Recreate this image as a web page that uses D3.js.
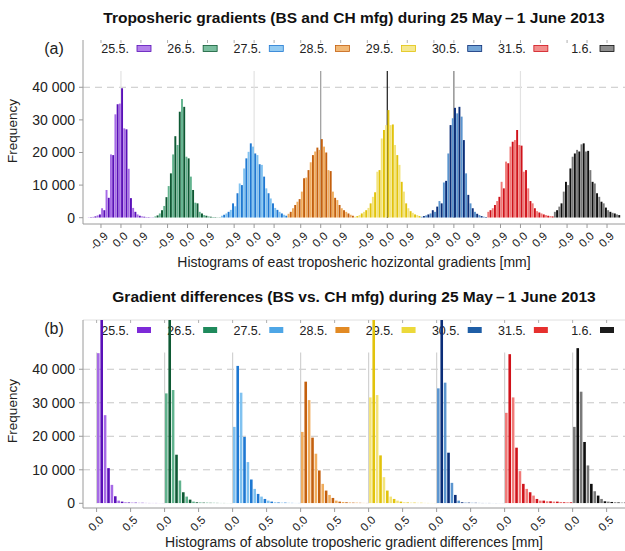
<!DOCTYPE html>
<html>
<head>
<meta charset="utf-8">
<script src="https://cdn.jsdelivr.net/npm/d3@7"></script>
<style>
  html, body { margin: 0; padding: 0; background: #fff; }
  svg { display: block; font-family: "Liberation Sans", Arial, Helvetica, sans-serif; }
</style>
</head>
<body>
<svg id="chart" width="625" height="551"></svg>
<script>
// ---- data -------------------------------------------------------------
const days = ["25.5.", "26.5.", "27.5.", "28.5.", "29.5.", "30.5.", "31.5.", "1.6."];
const countTicks = [0, 10000, 20000, 30000, 40000];
const eastTicks = [-0.9, 0, 0.9];
const diffTicks = [0, 0.5];

// east gradients: 0.2 mm bins from -1.5 to 1.5 mm, BS and CH mfg side by side in each bin
const eastBinStart = -1.5, eastBinWidth = 0.2;
const eastBS = [
  [100, 250, 700, 2900, 8500, 19400, 31700, 35000, 27400, 15000, 3000, 1000, 400, 200, 100],
  [400, 1300, 3600, 9700, 19400, 22300, 36400, 18700, 12600, 4600, 1800, 800, 400, 200, 100],
  [600, 1300, 2400, 3500, 10500, 15100, 20200, 21800, 19200, 16200, 9000, 5900, 3000, 1800, 900],
  [1200, 2900, 4900, 8000, 12300, 17000, 20300, 20800, 21800, 14600, 8000, 5400, 2900, 1800, 900],
  [300, 800, 1800, 3000, 6400, 14100, 24300, 28400, 28400, 22300, 16200, 8000, 2900, 1500, 800],
  [300, 700, 1300, 1800, 5100, 10800, 19700, 30500, 32000, 31000, 13600, 4400, 1800, 800, 300],
  [1800, 2900, 5100, 11000, 17200, 21800, 23800, 22300, 14100, 9000, 4400, 2000, 1300, 800, 500],
  [1800, 3400, 8000, 10000, 18700, 20800, 22500, 20300, 14600, 10500, 6400, 4400, 2300, 1500, 1000]
];
const eastCH = [
  [150, 400, 1000, 2300, 6100, 19200, 34800, 39700, 27100, 6000, 1800, 600, 300, 150, 80],
  [700, 2300, 6300, 13600, 25000, 32500, 34000, 18200, 8500, 4400, 1300, 600, 300, 150, 80],
  [900, 1800, 4400, 7500, 10000, 18200, 22800, 19700, 16400, 12600, 7500, 4400, 2400, 1300, 600],
  [1800, 3900, 5700, 12100, 14600, 19200, 21500, 24100, 20000, 14300, 6100, 3900, 2300, 1300, 600],
  [500, 1300, 2300, 4400, 7800, 14600, 26900, 33000, 28600, 19200, 11000, 4400, 2000, 1000, 500],
  [500, 1000, 2300, 3400, 4400, 11300, 28400, 33700, 34000, 23800, 7000, 2900, 1200, 500, 200],
  [2300, 3900, 6400, 9000, 16700, 23300, 26900, 22100, 14600, 5100, 2900, 1600, 1000, 600, 400],
  [2300, 4400, 11000, 15100, 19700, 20300, 22800, 20500, 11000, 7500, 4900, 3100, 1800, 1300, 800]
];

// absolute differences: 0.1 mm bins from 0 to 1 mm
const diffBinStart = 0, diffBinWidth = 0.1;
const diffBS = [
  [44800, 26300, 5500, 800, 300, 200, 150, 120, 100, 80],
  [32800, 33800, 6800, 2000, 500, 250, 200, 150, 100, 80],
  [22800, 33000, 12300, 4300, 2000, 800, 300, 200, 150, 100],
  [21300, 30800, 14800, 5800, 2500, 800, 400, 250, 200, 120],
  [31600, 32300, 7800, 2000, 800, 300, 200, 150, 120, 100],
  [34300, 36000, 6100, 800, 200, 150, 120, 100, 80, 80],
  [27000, 31600, 9600, 4300, 2300, 800, 600, 500, 400, 300],
  [22800, 33300, 11300, 3600, 1300, 500, 300, 200, 150, 100]
];
const diffCH = [
  [62000, 10500, 2100, 500, 250, 200, 150, 100, 100, 80],
  [58000, 14500, 3300, 1100, 300, 200, 150, 120, 100, 80],
  [41000, 19800, 7100, 2800, 1300, 500, 250, 200, 120, 100],
  [36300, 19600, 9800, 3800, 1600, 500, 300, 200, 150, 100],
  [60000, 14300, 3800, 1300, 500, 250, 200, 150, 100, 80],
  [62000, 15100, 2500, 300, 200, 150, 100, 100, 80, 60],
  [44500, 16600, 5800, 3300, 1300, 800, 600, 500, 300, 300],
  [46300, 18300, 5800, 2300, 600, 400, 250, 200, 120, 100]
];

// ---- styling ----------------------------------------------------------
const baseColors  = ["#7d2ad8", "#1f8a5c", "#4ea6e6", "#e28a24", "#ecd93a", "#1f5ea6", "#e6302e", "#1c1c1c"];
const lightColors = ["#a66ae6", "#62b38e", "#80c2f0", "#f0ad5e", "#f3e47c", "#5b95cf", "#f07a78", "#7a7a7a"];
const darkColors  = ["#5a10b8", "#0e5a34", "#1e78d2", "#c4600e", "#e2c30c", "#0a2d78", "#d0121a", "#0e0e0e"];
const zeroLineColorsA = ["#e2e2e2", null, "#e2e2e2", "#9a9a9a", "#1a1a1a", "#7a7a7a", "#e2e2e2", null];

const svg = d3.select("#chart");
const fmtCount = d3.formatLocale({decimal: ".", thousands: " ", grouping: [3], currency: ["", ""]}).format(",d");
const fmtTick = v => (v < 0 ? "-" : "") + Math.abs(v).toFixed(1);
const left = 83, right = 625;
const legendX = d3.scaleLinear().domain([0, days.length - 1]).range([137, 600]);

function drawPanel(cfg) {
  const g = svg.append("g");
  const x = d3.scaleLinear().domain(cfg.xDomain).range([left, right]);
  const y = d3.scaleLinear().domain([0, cfg.yMax]).range([cfg.y0, cfg.top]);
  const clipId = "clip-" + cfg.id;
  svg.append("clipPath").attr("id", clipId)
    .append("rect").attr("x", left).attr("y", cfg.top).attr("width", right - left).attr("height", cfg.y0 - cfg.top);

  // titles
  g.append("text").attr("x", 354).attr("y", cfg.titleY).attr("text-anchor", "middle")
    .attr("font-size", 15.5).attr("font-weight", "bold").attr("fill", "#111").text(cfg.title);
  g.append("text").attr("x", 54).attr("y", cfg.top + 14).attr("text-anchor", "middle")
    .attr("font-size", 16).attr("fill", "#222").text(cfg.tag);
  g.append("text").attr("transform", `translate(17,${cfg.freqY}) rotate(-90)`).attr("text-anchor", "middle")
    .attr("font-size", 13.5).attr("fill", "#222").text("Frequency");
  g.append("text").attr("x", 354).attr("y", cfg.xLabelY).attr("text-anchor", "middle")
    .attr("font-size", 14).attr("fill", "#222").text(cfg.xLabel);

  // top border
  if (cfg.topBorder) {
    g.append("line").attr("x1", left).attr("x2", right).attr("y1", cfg.top).attr("y2", cfg.top)
      .attr("stroke", "#e0e0e0").attr("stroke-width", 1);
  }

  // dashed horizontal grid
  g.append("g").selectAll("line").data(cfg.hGrid).join("line")
    .attr("x1", left).attr("x2", right)
    .attr("y1", d => y(d)).attr("y2", d => y(d))
    .attr("stroke", "#c6c6c6").attr("stroke-width", 1).attr("stroke-dasharray", "7,5");

  // vertical lines at each day's 0.0
  g.append("g").selectAll("line").data(days.map((d, i) => ({i, c: cfg.zeroColors[i]})).filter(r => r.c))
    .join("line")
    .attr("x1", r => x(r.i * cfg.step)).attr("x2", r => x(r.i * cfg.step))
    .attr("y1", y(0)).attr("y2", y(45000))
    .attr("stroke", r => r.c).attr("stroke-width", 1.2);

  // legend
  const lg = g.append("g");
  days.forEach((day, i) => {
    lg.append("text").attr("x", legendX(i) - 8).attr("y", cfg.legendY).attr("text-anchor", "end")
      .attr("font-size", 12.5).attr("fill", "#222").text(day);
    const sw = lg.append("rect").attr("x", legendX(i)).attr("y", cfg.legendY - 7.5)
      .attr("width", 14).attr("height", 6);
    if (cfg.lightSwatch) {
      sw.attr("fill", d3.interpolateRgb(lightColors[i], "#fff")(0.15))
        .attr("stroke", darkColors[i]).attr("stroke-width", 0.8);
    } else {
      sw.attr("fill", baseColors[i]);
    }
  });

  // bars
  const bars = g.append("g").attr("clip-path", `url(#${clipId})`);
  const halfW = x(cfg.binWidth / 2) - x(0);
  days.forEach((day, d) => {
    const rows = [];
    cfg.bs[d].forEach((v, i) => rows.push({s: 0, lo: cfg.binStart + i * cfg.binWidth, v}));
    cfg.ch[d].forEach((v, i) => rows.push({s: 1, lo: cfg.binStart + i * cfg.binWidth + cfg.binWidth / 2, v}));
    bars.append("g").selectAll("rect").data(rows).join("rect")
      .attr("x", r => x(d * cfg.step + r.lo) + cfg.gap / 2)
      .attr("width", halfW - cfg.gap)
      .attr("y", r => y(r.v))
      .attr("height", r => y(0) - y(r.v))
      .attr("fill", r => r.s ? darkColors[d] : lightColors[d]);
  });

  // axes
  const axisCol = "#9a9a9a";
  g.append("line").attr("x1", left).attr("x2", left).attr("y1", cfg.top).attr("y2", cfg.axisY)
    .attr("stroke", axisCol);
  g.append("line").attr("x1", left).attr("x2", right).attr("y1", cfg.axisY).attr("y2", cfg.axisY)
    .attr("stroke", axisCol);
  const yt = g.append("g");
  yt.selectAll("line").data(countTicks).join("line")
    .attr("x1", left - 4).attr("x2", left).attr("y1", d => y(d)).attr("y2", d => y(d)).attr("stroke", axisCol);
  yt.selectAll("text").data(countTicks).join("text")
    .attr("x", left - 8).attr("y", d => y(d)).attr("dy", "0.35em").attr("text-anchor", "end")
    .attr("font-size", 14).attr("fill", "#222").text(d => fmtCount(d));

  const xt = [];
  days.forEach((day, d) => cfg.ticks.forEach(t => xt.push({pos: d * cfg.step + t, t})));
  const xg = g.append("g");
  xg.selectAll("line.b").data(xt).join("line").attr("class", "b")
    .attr("x1", r => x(r.pos)).attr("x2", r => x(r.pos))
    .attr("y1", cfg.axisY).attr("y2", cfg.axisY + 4).attr("stroke", axisCol);
  xg.selectAll("line.t").data(xt).join("line").attr("class", "t")
    .attr("x1", r => x(r.pos)).attr("x2", r => x(r.pos))
    .attr("y1", cfg.top).attr("y2", cfg.top + 3).attr("stroke", "#b0b0b0");
  xg.selectAll("text").data(xt).join("text")
    .attr("transform", r => `translate(${x(r.pos) + 2},${cfg.axisY + 7}) rotate(-45)`)
    .attr("text-anchor", "end").attr("dy", "0.7em")
    .attr("font-size", 11.5).attr("fill", "#222").text(r => fmtTick(r.t));
}

drawPanel({
  id: "east",
  title: "Troposheric gradients (BS and CH mfg) during 25 May\u2009\u2013\u20091 June 2013",
  titleY: 22.5, tag: "(a)", freqY: 131,
  xLabel: "Histograms of east troposheric hozizontal gradients [mm]", xLabelY: 267,
  xDomain: [-1.71, 22.71], step: 3, yMax: 54500, y0: 217.7, top: 40, axisY: 224,
  hGrid: [40000], zeroColors: zeroLineColorsA, legendY: 53, lightSwatch: true,
  bs: eastBS, ch: eastCH, binStart: eastBinStart, binWidth: eastBinWidth, gap: 0.3,
  ticks: eastTicks, topBorder: false
});

drawPanel({
  id: "diff",
  title: "Gradient differences (BS vs. CH mfg) during 25 May\u2009\u2013\u20091 June 2013",
  titleY: 302, tag: "(b)", freqY: 411,
  xLabel: "Histograms of absolute troposheric gradient differences [mm]", xLabelY: 547,
  xDomain: [-0.2, 7.77], step: 1, yMax: 54700, y0: 503.3, top: 320, axisY: 508,
  hGrid: [10000, 20000, 30000, 40000], zeroColors: days.map(() => "#d2d2d2"), legendY: 334.5, lightSwatch: false,
  bs: diffBS, ch: diffCH, binStart: diffBinStart, binWidth: diffBinWidth, gap: 0.8,
  ticks: diffTicks, topBorder: true
});
</script>
</body>
</html>
